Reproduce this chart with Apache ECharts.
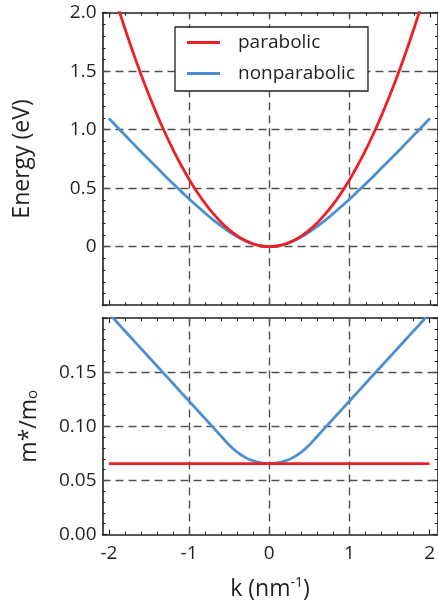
<!DOCTYPE html>
<html><head><meta charset="utf-8">
<script src="https://cdn.jsdelivr.net/npm/echarts@6/dist/echarts.min.js"></script>
<style>html,body{margin:0;padding:0;background:#fff}#c{width:438px;height:602px}</style>
</head><body><div id="c"></div>
<script>
// ---- data ----
const kValues = [-2.0,-1.9,-1.8,-1.7,-1.6,-1.5,-1.4,-1.3,-1.2,-1.1,-1.0,-0.9,-0.8,-0.7,-0.6,-0.5,-0.4,-0.3,-0.2,-0.1,0,
  0.1,0.2,0.3,0.4,0.5,0.6,0.7,0.8,0.9,1.0,1.1,1.2,1.3,1.4,1.5,1.6,1.7,1.8,1.9,2.0];
const parabolicEnergy = [2.300,2.076,1.863,1.662,1.472,1.294,1.127,0.972,0.828,0.696,0.575,0.466,0.368,0.282,0.207,0.144,0.092,0.052,0.023,0.006,0,
  0.006,0.023,0.052,0.092,0.144,0.207,0.282,0.368,0.466,0.575,0.696,0.828,0.972,1.127,1.294,1.472,1.662,1.863,2.076,2.300];
const nonparabolicEnergy = [1.097,1.025,0.954,0.883,0.812,0.743,0.674,0.605,0.538,0.473,0.408,0.346,0.286,0.229,0.176,0.128,0.085,0.049,0.023,0.006,0,
  0.006,0.023,0.049,0.085,0.128,0.176,0.229,0.286,0.346,0.408,0.473,0.538,0.605,0.674,0.743,0.812,0.883,0.954,1.025,1.097];
const parabolicMass = [0.0655,0.0655,0.0655,0.0655,0.0655,0.0655,0.0655,0.0655,0.0655,0.0655,0.0655,0.0655,0.0655,0.0655,0.0655,0.0655,0.0655,0.0655,0.0655,0.0655,0.0655,
  0.0655,0.0655,0.0655,0.0655,0.0655,0.0655,0.0655,0.0655,0.0655,0.0655,0.0655,0.0655,0.0655,0.0655,0.0655,0.0655,0.0655,0.0655,0.0655,0.0655];
const nonparabolicMass = [0.2043,0.1962,0.1881,0.1800,0.1719,0.1638,0.1557,0.1476,0.1395,0.1314,0.1233,0.1152,0.1071,0.0990,0.0908,0.0828,0.0762,0.0713,0.0680,0.0661,0.0655,
  0.0661,0.0680,0.0713,0.0762,0.0828,0.0908,0.0990,0.1071,0.1152,0.1233,0.1314,0.1395,0.1476,0.1557,0.1638,0.1719,0.1800,0.1881,0.1962,0.2043];
const xMajorTicks = [-2,-1,0,1,2];
const xMinorTicks = [-1.8,-1.6,-1.4,-1.2,-0.8,-0.6,-0.4,-0.2,0.2,0.4,0.6,0.8,1.2,1.4,1.6,1.8];
const xGridValues = [-1,0,1];
const energyGridValues = [0,0.5,1.0,1.5];
const massGridValues = [0.05,0.10,0.15];
const seriesNames = ['parabolic','nonparabolic'];

// ---- styling ----
const FONT = 'Open Sans';
const INK = '#231f20';
const RED = '#ec2127';
const BLUE = '#4b8fd0';
const X_MIN = -2.08, X_MAX = 2.1;

function pairs(xs, ys){ return xs.map((x,i)=>[x, ys[i]]); }

function xAxisSet(grid, withLabels){
  const base = { gridIndex: grid, type:'value', min:X_MIN, max:X_MAX, splitLine:{show:false} };
  return [
    Object.assign({}, base, { position:'bottom',
      axisLine:{show:true, onZero:false, lineStyle:{color:INK, width:1.6}},
      axisTick:{show:true, inside:true, length:5, customValues:xMajorTicks, lineStyle:{color:INK, width:1.2}},
      axisLabel:{show:withLabels, customValues:xMajorTicks, margin:10, fontSize:19, fontFamily:FONT, color:INK},
      name: withLabels ? 'k (nm{sup|-1})' : '', nameLocation:'middle', nameGap:42,
      nameTextStyle:{fontSize:23, fontFamily:FONT, color:INK, rich:{sup:{fontSize:14, fontFamily:FONT, color:INK, padding:[0,0,12,0]}}}
    }),
    Object.assign({}, base, { position:'bottom', axisLine:{show:false, onZero:false},
      axisTick:{show:true, inside:true, length:3, customValues:xMinorTicks, lineStyle:{color:INK, width:1}},
      axisLabel:{show:false} }),
    Object.assign({}, base, { position:'top',
      axisLine:{show:true, onZero:false, lineStyle:{color:INK, width:1.6}},
      axisTick:{show:true, inside:true, length:5, customValues:xMajorTicks, lineStyle:{color:INK, width:1.2}},
      axisLabel:{show:false} }),
    Object.assign({}, base, { position:'top', axisLine:{show:false, onZero:false},
      axisTick:{show:true, inside:true, length:3, customValues:xMinorTicks, lineStyle:{color:INK, width:1}},
      axisLabel:{show:false} })
  ];
}

const grids = [
  { left:102.5, width:336.5, top:12.7, height:292.5 },
  { left:102.5, width:336.5, top:318.1, height:217.6 }
];

const xAxes = xAxisSet(0,false).concat(xAxisSet(1,true));

const yAxes = [
  { gridIndex:0, type:'value', position:'left', min:-0.5, max:2.0, interval:0.5,
    axisLine:{show:true, onZero:false, lineStyle:{color:INK, width:1.6}},
    axisTick:{show:true, inside:true, length:5, lineStyle:{color:INK, width:1.2}},
    minorTick:{show:true, splitNumber:5, length:3, lineStyle:{color:INK, width:1}},
    splitLine:{show:false},
    axisLabel:{margin:6, fontSize:19, fontFamily:FONT, color:INK,
      formatter:v => v < 0 ? '' : (v === 0 ? '0' : v.toFixed(1))},
    name:'Energy (eV)', nameLocation:'middle', nameRotate:90, nameGap:69,
    nameTextStyle:{fontSize:23, fontFamily:FONT, color:INK} },
  { gridIndex:0, type:'value', position:'right', min:-0.5, max:2.0, interval:0.5,
    axisLine:{show:true, onZero:false, lineStyle:{color:INK, width:1.6}},
    axisTick:{show:true, inside:true, length:5, lineStyle:{color:INK, width:1.2}},
    minorTick:{show:true, splitNumber:5, length:3, lineStyle:{color:INK, width:1}},
    splitLine:{show:false}, axisLabel:{show:false} },
  { gridIndex:1, type:'value', position:'left', min:0, max:0.2, interval:0.05,
    axisLine:{show:true, onZero:false, lineStyle:{color:INK, width:1.6}},
    axisTick:{show:true, inside:true, length:5, lineStyle:{color:INK, width:1.2}},
    minorTick:{show:true, splitNumber:5, length:3, lineStyle:{color:INK, width:1}},
    splitLine:{show:false},
    axisLabel:{margin:6, fontSize:19, fontFamily:FONT, color:INK,
      formatter:v => v > 0.199 ? '' : v.toFixed(2)},
    name:'m*/m{sub|o}', nameLocation:'middle', nameRotate:90, nameGap:62,
    nameTextStyle:{fontSize:23, fontFamily:FONT, color:INK, rich:{sub:{fontSize:15, fontFamily:FONT, color:INK, padding:[8,0,0,0]}}} },
  { gridIndex:1, type:'value', position:'right', min:0, max:0.2, interval:0.05,
    axisLine:{show:true, onZero:false, lineStyle:{color:INK, width:1.6}},
    axisTick:{show:true, inside:true, length:5, lineStyle:{color:INK, width:1.2}},
    minorTick:{show:true, splitNumber:5, length:3, lineStyle:{color:INK, width:1}},
    splitLine:{show:false}, axisLabel:{show:false} }
];

function gridLines(xIdx, yIdx, yVals){
  return { type:'line', xAxisIndex:xIdx, yAxisIndex:yIdx, data:[], silent:true, z:1,
    markLine:{ z:1, symbol:'none', silent:true, animation:false, label:{show:false},
      lineStyle:{type:[8,5], color:'#505050', width:1.4},
      data: xGridValues.map(v=>({xAxis:v})).concat(yVals.map(v=>({yAxis:v}))) } };
}

function curve(name, xIdx, yIdx, ys, color){
  return { name, type:'line', xAxisIndex:xIdx, yAxisIndex:yIdx, data:pairs(kValues, ys),
    smooth:0.4, symbol:'none', showSymbol:false, z:3, clip:true, animation:false,
    lineStyle:{color, width:2.8}, itemStyle:{color} };
}

const option = {
  backgroundColor:'#fff',
  animation:false,
  grid: grids,
  xAxis: xAxes,
  yAxis: yAxes,
  legend: { data: seriesNames, orient:'vertical', left:175, top:27, z:10,
    padding:[6,13,8,12], itemWidth:33, itemHeight:3, itemGap:12, icon:'rect',
    borderColor:INK, borderWidth:1.3, backgroundColor:'#fff',
    textStyle:{fontSize:19, lineHeight:18, fontFamily:FONT, color:INK, padding:[0,0,0,13]} },
  series: [
    gridLines(0,0,energyGridValues),
    gridLines(4,2,massGridValues),
    curve(seriesNames[1],0,0,nonparabolicEnergy,BLUE),
    curve(seriesNames[0],0,0,parabolicEnergy,RED),
    curve(seriesNames[1],4,2,nonparabolicMass,BLUE),
    curve(seriesNames[0],4,2,parabolicMass,RED)
  ]
};
const chart = echarts.init(document.getElementById('c'), null, {renderer:'canvas'});
chart.setOption(option);
</script></body></html>
